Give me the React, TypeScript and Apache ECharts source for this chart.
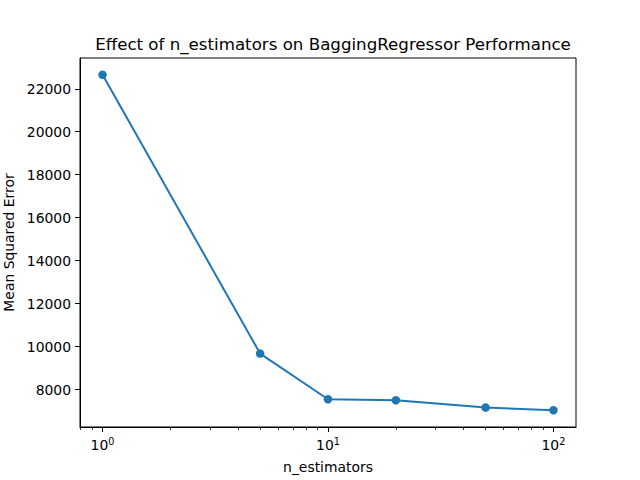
import React, { useEffect, useRef } from "react";
import * as echarts from "echarts";

const nEstimators = [1, 5, 10, 20, 50, 100];
const mseValues = [22651, 9674, 7549, 7502, 7163, 7037];
const yTickValues = [8000, 10000, 12000, 14000, 16000, 18000, 20000, 22000];
const xMajorTicks = [1, 10, 100];
const xMinorTicks = [0.8, 0.9, 2, 3, 4, 5, 6, 7, 8, 9, 20, 30, 40, 50, 60, 70, 80, 90];

const FONT = "DejaVu Sans";

export default function App() {
  const ref = useRef<HTMLDivElement>(null);
  useEffect(() => {
    if (!ref.current) return;
    const chart = echarts.init(ref.current, undefined, { renderer: "svg" });
    const dmin = Math.min(...mseValues);
    const dmax = Math.max(...mseValues);
    const pad = (dmax - dmin) * 0.05;
    const lmin = Math.log10(Math.min(...nEstimators));
    const lmax = Math.log10(Math.max(...nEstimators));
    const lpad = (lmax - lmin) * 0.05;
    const majorL = xMajorTicks.map((v) => Math.log10(v));
    const minorL = xMinorTicks.map((v) => Math.log10(v));
    chart.setOption({
      animation: false,
      backgroundColor: "#ffffff",
      title: {
        text: "Effect of n_estimators on BaggingRegressor Performance",
        left: 328,
        textAlign: "center",
        top: 31,
        textStyle: { fontFamily: FONT, fontSize: 16.67, fontWeight: "normal", color: "#000" },
      },
      grid: {
        left: 80,
        top: 58,
        width: 496,
        height: 369,
        containLabel: false,
        outerBoundsMode: "none",
        show: true,
        borderColor: "#000",
        borderWidth: 1,
        backgroundColor: "transparent",
      },
      xAxis: [
        {
          type: "value",
          min: lmin - lpad,
          max: lmax + lpad,
          name: "n_estimators",
          nameLocation: "middle",
          nameGap: 33,
          nameTextStyle: { fontFamily: FONT, fontSize: 13.9, color: "#000" },
          axisLine: { show: true, onZero: false, lineStyle: { color: "#000", width: 1 } },
          axisTick: { show: true, length: 5, lineStyle: { color: "#000", width: 1 }, customValues: majorL },
          splitLine: { show: false },
          axisLabel: {
            customValues: majorL,
            margin: 9,
            color: "#000",
            fontFamily: FONT,
            formatter: (v: number) => `{b|10}{s|${Math.round(v)}}`,
            rich: {
              b: { fontFamily: FONT, fontSize: 13.9, color: "#000" },
              s: { fontFamily: FONT, fontSize: 9.7, color: "#000", padding: [0, 0, 8, 0] },
            },
          },
        },
        {
          type: "value",
          min: lmin - lpad,
          max: lmax + lpad,
          position: "bottom",
          axisLine: { show: false, onZero: false },
          axisTick: { show: true, length: 3, lineStyle: { color: "#000", width: 0.8 }, customValues: minorL },
          axisLabel: { show: false },
          splitLine: { show: false },
        },
      ],
      yAxis: {
        type: "value",
        min: dmin - pad,
        max: dmax + pad,
        name: "Mean Squared Error",
        nameLocation: "middle",
        nameGap: 60,
        nameTextStyle: { fontFamily: FONT, fontSize: 13.9, color: "#000" },
        axisLine: { show: true, onZero: false, lineStyle: { color: "#000", width: 1 } },
        axisTick: { show: true, length: 5, lineStyle: { color: "#000", width: 1 }, customValues: yTickValues },
        splitLine: { show: false },
        axisLabel: {
          customValues: yTickValues,
          margin: 9,
          color: "#000",
          fontFamily: FONT,
          fontSize: 13.9,
          formatter: (v: number) => String(v),
        },
      },
      series: [
        {
          type: "line",
          xAxisIndex: 0,
          data: nEstimators.map((x, i) => [Math.log10(x), mseValues[i]]),
          symbol: "circle",
          symbolSize: 8.5,
          showSymbol: true,
          lineStyle: { color: "#1f77b4", width: 2 },
          itemStyle: { color: "#1f77b4" },
        },
      ],
    });
    return () => chart.dispose();
  }, []);
  return (
    <div
      ref={ref}
      style={{ position: "absolute", left: 0, top: 0, width: 640, height: 480 }}
    />
  );
}
